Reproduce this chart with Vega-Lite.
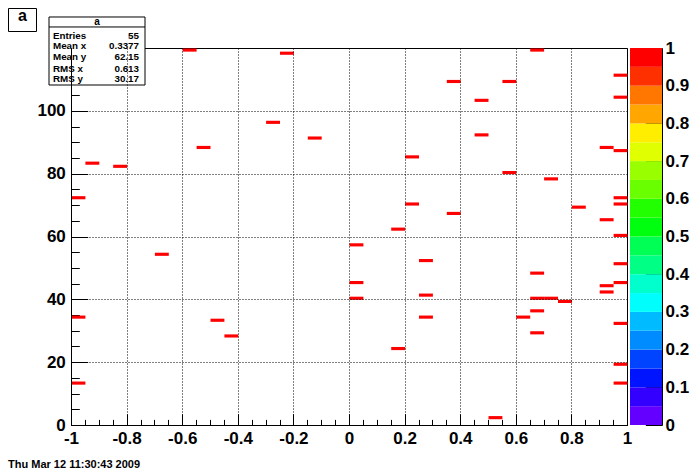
{
  "$schema": "https://vega.github.io/schema/vega-lite/v6.json",
  "background": "white",
  "padding": {"left": 7, "top": 7, "right": 5, "bottom": 5},
  "bounds": "flush",
  "spacing": 3,
  "config": {
    "view": {"stroke": null},
    "font": "Liberation Sans",
    "axis": {
      "domainColor": "black", "tickColor": "black", "labelColor": "black",
      "labelFont": "Liberation Sans", "labelFontWeight": "bold", "labelFontSize": 17,
      "domainWidth": 1, "tickWidth": 1, "labelFlush": false, "labelOverlap": false, "title": null
    }
  },
  "hconcat": [
    {
      "width": 556,
      "height": 377,
      "view": {"stroke": "black", "strokeWidth": 1},
      "resolve": {"axis": {"x": "independent", "y": "independent"}},
      "layer": [
        {
          "data": {"values": [
            {"x": -0.6, "y": 119, "v": 1}, {"x": -0.95, "y": 83, "v": 1}, {"x": -0.85, "y": 82, "v": 1},
            {"x": -1, "y": 72, "v": 1}, {"x": -0.55, "y": 88, "v": 1}, {"x": -0.7, "y": 54, "v": 1},
            {"x": -1, "y": 34, "v": 1}, {"x": -1, "y": 13, "v": 1}, {"x": -0.25, "y": 118, "v": 1},
            {"x": -0.3, "y": 96, "v": 1}, {"x": -0.15, "y": 91, "v": 1}, {"x": 0.2, "y": 85, "v": 1},
            {"x": 0.2, "y": 70, "v": 1}, {"x": 0.15, "y": 62, "v": 1}, {"x": 0, "y": 57, "v": 1},
            {"x": 0.25, "y": 52, "v": 1}, {"x": 0, "y": 45, "v": 1}, {"x": 0, "y": 40, "v": 1},
            {"x": 0.25, "y": 41, "v": 1}, {"x": 0.25, "y": 34, "v": 1}, {"x": -0.5, "y": 33, "v": 1},
            {"x": -0.45, "y": 28, "v": 1}, {"x": 0.15, "y": 24, "v": 1}, {"x": 0.65, "y": 119, "v": 1},
            {"x": 0.95, "y": 111, "v": 1}, {"x": 0.35, "y": 109, "v": 1}, {"x": 0.55, "y": 109, "v": 1},
            {"x": 0.45, "y": 103, "v": 1}, {"x": 0.95, "y": 104, "v": 1}, {"x": 0.45, "y": 92, "v": 1},
            {"x": 0.9, "y": 88, "v": 1}, {"x": 0.95, "y": 87, "v": 1}, {"x": 0.55, "y": 80, "v": 1},
            {"x": 0.7, "y": 78, "v": 1}, {"x": 0.95, "y": 72, "v": 1}, {"x": 0.95, "y": 70, "v": 1},
            {"x": 0.8, "y": 69, "v": 1}, {"x": 0.35, "y": 67, "v": 1}, {"x": 0.9, "y": 65, "v": 1},
            {"x": 0.95, "y": 60, "v": 1}, {"x": 0.95, "y": 51, "v": 1}, {"x": 0.65, "y": 48, "v": 1},
            {"x": 0.95, "y": 45, "v": 1}, {"x": 0.9, "y": 44, "v": 1}, {"x": 0.9, "y": 42, "v": 1},
            {"x": 0.65, "y": 40, "v": 1}, {"x": 0.7, "y": 40, "v": 1}, {"x": 0.75, "y": 39, "v": 1},
            {"x": 0.65, "y": 36, "v": 1}, {"x": 0.6, "y": 34, "v": 1}, {"x": 0.95, "y": 32, "v": 1},
            {"x": 0.65, "y": 29, "v": 1}, {"x": 0.95, "y": 19, "v": 1}, {"x": 0.95, "y": 13, "v": 1},
            {"x": 0.5, "y": 2, "v": 1}
          ]},
          "mark": {"type": "rect", "binSpacing": 0},
          "encoding": {
            "x": {
              "field": "x", "type": "quantitative", "bin": {"binned": true, "step": 0.05},
              "scale": {"domain": [-1, 1], "nice": false, "zero": false},
              "axis": {
                "orient": "bottom",
                "values": [-1, -0.8, -0.6, -0.4, -0.2, 0, 0.2, 0.4, 0.6, 0.8, 1],
                "labelExpr": "'' + datum.value",
                "tickSize": -11.3, "labelPadding": 16.3,
                "grid": true, "gridDash": [1, 2], "gridColor": "black", "gridOpacity": 1, "gridWidth": 1
              }
            },
            "y": {
              "field": "y", "type": "quantitative", "bin": {"binned": true, "step": 1},
              "scale": {"domain": [0, 120], "nice": false, "zero": false},
              "axis": {
                "orient": "left",
                "values": [0, 20, 40, 60, 80, 100],
                "labelExpr": "'' + datum.value",
                "tickSize": -16.7, "labelPadding": 22.4,
                "grid": true, "gridDash": [1, 2], "gridColor": "black", "gridOpacity": 1, "gridWidth": 1
              }
            },
            "color": {
              "field": "v", "type": "quantitative",
              "scale": {"type": "quantize", "domain": [0, 1],
                "range": ["#6300ff","#3300ff","#0014ff","#0044ff","#008bff","#00bbff","#00fffc","#00ffcc","#00ff85","#00ff55","#00ff0e","#22ff00","#69ff00","#99ff00","#e0ff00","#ffee00","#ffa700","#ff7700","#ff3000","#ff0000"]},
              "legend": null
            }
          }
        },
        {
          "data": {"values": [{}]},
          "mark": {"type": "rect", "fill": "white", "stroke": "black", "strokeWidth": 1},
          "encoding": {
            "x": {
              "datum": -1.0791, "type": "quantitative",
              "scale": {"domain": [-1, 1], "nice": false, "zero": false},
              "axis": {
                "orient": "bottom",
                "values": [-1,-0.95,-0.9,-0.85,-0.8,-0.75,-0.7,-0.65,-0.6,-0.55,-0.5,-0.45,-0.4,-0.35,-0.3,-0.25,-0.2,-0.15,-0.1,-0.05,0,0.05,0.1,0.15,0.2,0.25,0.3,0.35,0.4,0.45,0.5,0.55,0.6,0.65,0.7,0.75,0.8,0.85,0.9,0.95,1],
                "tickSize": -5.6, "labels": false, "domain": false, "grid": false
              }
            },
            "x2": {"datum": -0.7338},
            "y": {
              "datum": 129.87, "type": "quantitative",
              "scale": {"domain": [0, 120], "nice": false, "zero": false},
              "axis": {
                "orient": "left",
                "values": [0,5,10,15,20,25,30,35,40,45,50,55,60,65,70,75,80,85,90,95,100,105,110,115,120],
                "tickSize": -8.3, "labels": false, "domain": false, "grid": false
              }
            },
            "y2": {"datum": 108.22}
          }
        },
        {
          "data": {"values": [{}]},
          "mark": {"type": "rule", "stroke": "black", "strokeWidth": 1},
          "encoding": {
            "x": {"datum": -1.0791, "type": "quantitative", "axis": null},
            "x2": {"datum": -0.7338},
            "y": {"datum": 126.69, "type": "quantitative", "axis": null}
          }
        },
        {
          "data": {"values": [{}]},
          "mark": {"type": "text", "text": "a", "font": "Liberation Sans", "fontWeight": "bold", "fontSize": 10, "align": "center", "baseline": "alphabetic", "color": "black"},
          "encoding": {
            "x": {"datum": -0.9065, "type": "quantitative", "axis": null},
            "y": {"datum": 127.48, "type": "quantitative", "axis": null}
          }
        },
        {
          "data": {"values": [{}]},
          "mark": {"type": "text", "text": ["Entries", "Mean x", "Mean y"], "font": "Liberation Sans", "fontWeight": "bold", "fontSize": 9.8, "lineHeight": 10.6, "align": "left", "baseline": "top", "color": "black"},
          "encoding": {
            "x": {"datum": -1.0647, "type": "quantitative", "axis": null},
            "y": {"datum": 125.57, "type": "quantitative", "axis": null}
          }
        },
        {
          "data": {"values": [{}]},
          "mark": {"type": "text", "text": ["55", "0.3377", "62.15"], "font": "Liberation Sans", "fontWeight": "bold", "fontSize": 9.8, "lineHeight": 10.6, "align": "right", "baseline": "top", "color": "black"},
          "encoding": {
            "x": {"datum": -0.7554, "type": "quantitative", "axis": null},
            "y": {"datum": 125.57, "type": "quantitative", "axis": null}
          }
        },
        {
          "data": {"values": [{}]},
          "mark": {"type": "text", "text": ["RMS x", "RMS y"], "font": "Liberation Sans", "fontWeight": "bold", "fontSize": 9.8, "lineHeight": 10, "align": "left", "baseline": "top", "color": "black"},
          "encoding": {
            "x": {"datum": -1.0647, "type": "quantitative", "axis": null},
            "y": {"datum": 114.75, "type": "quantitative", "axis": null}
          }
        },
        {
          "data": {"values": [{}]},
          "mark": {"type": "text", "text": ["0.613", "30.17"], "font": "Liberation Sans", "fontWeight": "bold", "fontSize": 9.8, "lineHeight": 10, "align": "right", "baseline": "top", "color": "black"},
          "encoding": {
            "x": {"datum": -0.7554, "type": "quantitative", "axis": null},
            "y": {"datum": 114.75, "type": "quantitative", "axis": null}
          }
        },
        {
          "data": {"values": [{}]},
          "mark": {"type": "rect", "fill": "white", "stroke": "black", "strokeWidth": 1},
          "encoding": {
            "x": {"datum": -1.2248, "type": "quantitative", "axis": null},
            "x2": {"datum": -1.1241},
            "y": {"datum": 132.57, "type": "quantitative", "axis": null},
            "y2": {"datum": 125.25}
          }
        },
        {
          "data": {"values": [{}]},
          "mark": {"type": "text", "text": "a", "font": "Liberation Sans", "fontWeight": "bold", "fontSize": 16, "align": "center", "baseline": "alphabetic", "color": "black"},
          "encoding": {
            "x": {"datum": -1.1745, "type": "quantitative", "axis": null},
            "y": {"datum": 128.6, "type": "quantitative", "axis": null}
          }
        },
        {
          "data": {"values": [{}]},
          "mark": {"type": "text", "text": "Thu Mar 12 11:30:43 2009", "font": "Liberation Sans", "fontWeight": "bold", "fontSize": 11, "align": "left", "baseline": "alphabetic", "color": "black"},
          "encoding": {
            "x": {"datum": -1.2266, "type": "quantitative", "axis": null},
            "y": {"datum": -13.53, "type": "quantitative", "axis": null}
          }
        }
      ]
    },
    {
      "width": 32,
      "height": 377,
      "data": {"values": [
        {"lo": 0, "hi": 0.05}, {"lo": 0.05, "hi": 0.1}, {"lo": 0.1, "hi": 0.15}, {"lo": 0.15, "hi": 0.2},
        {"lo": 0.2, "hi": 0.25}, {"lo": 0.25, "hi": 0.3}, {"lo": 0.3, "hi": 0.35}, {"lo": 0.35, "hi": 0.4},
        {"lo": 0.4, "hi": 0.45}, {"lo": 0.45, "hi": 0.5}, {"lo": 0.5, "hi": 0.55}, {"lo": 0.55, "hi": 0.6},
        {"lo": 0.6, "hi": 0.65}, {"lo": 0.65, "hi": 0.7}, {"lo": 0.7, "hi": 0.75}, {"lo": 0.75, "hi": 0.8},
        {"lo": 0.8, "hi": 0.85}, {"lo": 0.85, "hi": 0.9}, {"lo": 0.9, "hi": 0.95}, {"lo": 0.95, "hi": 1}
      ]},
      "mark": {"type": "rect"},
      "encoding": {
        "y": {
          "field": "lo", "type": "quantitative",
          "scale": {"domain": [0, 1], "nice": false, "zero": false},
          "axis": {
            "orient": "right",
            "values": [0, 0.1, 0.2, 0.3, 0.4, 0.5, 0.6, 0.7, 0.8, 0.9, 1],
            "labelExpr": "'' + datum.value",
            "tickSize": -16.7, "labelPadding": 19.7, "grid": false
          }
        },
        "y2": {"field": "hi"},
        "color": {
          "field": "lo", "type": "ordinal",
          "scale": {
            "domain": [0,0.05,0.1,0.15,0.2,0.25,0.3,0.35,0.4,0.45,0.5,0.55,0.6,0.65,0.7,0.75,0.8,0.85,0.9,0.95],
            "range": ["#6300ff","#3300ff","#0014ff","#0044ff","#008bff","#00bbff","#00fffc","#00ffcc","#00ff85","#00ff55","#00ff0e","#22ff00","#69ff00","#99ff00","#e0ff00","#ffee00","#ffa700","#ff7700","#ff3000","#ff0000"]
          },
          "legend": null
        }
      }
    }
  ]
}
